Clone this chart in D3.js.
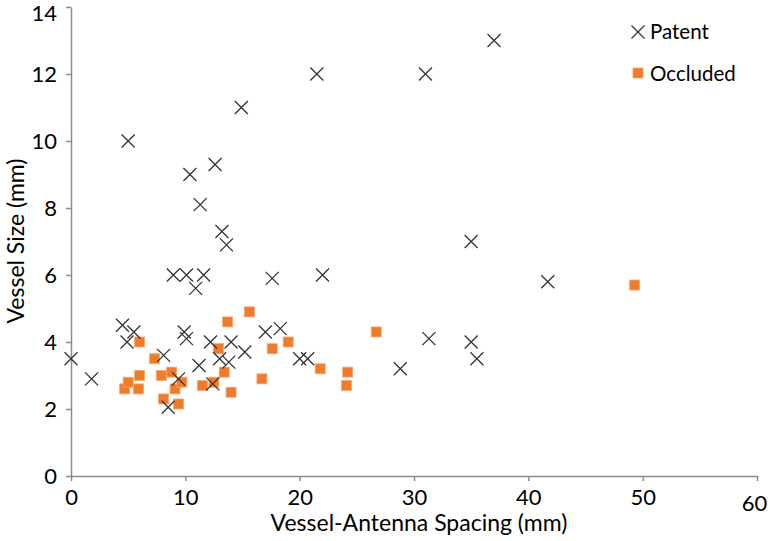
<!DOCTYPE html>
<html>
<head>
<meta charset="utf-8">
<script src="https://cdn.jsdelivr.net/npm/d3@7"></script>
<style>
  body { margin: 0; background: #fff; }
  text { font-family: Lato, "Open Sans", sans-serif; fill: #000; }
</style>
</head>
<body>
<svg id="chart" width="768" height="541"></svg>
<script>
// Data (Vessel-Antenna Spacing mm, Vessel Size mm)
const patentX = [0, 1.8, 5.0, 10.4, 12.6, 14.9, 21.5, 31.0, 37.0, 11.3, 13.2, 13.6, 8.95, 10.1, 11.6, 10.9,
  4.5, 5.5, 4.9, 8.1, 8.5, 9.9, 10.1, 9.4, 11.2, 12.2, 14.0, 13.0, 13.8, 15.2, 12.4,
  17.6, 22.0, 35.0, 17.0, 18.3, 20.0, 20.7, 28.8, 31.3, 35.0, 35.5, 41.7];
const patentY = [3.5, 2.9, 10.0, 9.0, 9.3, 11.0, 12.0, 12.0, 13.0, 8.1, 7.3, 6.9, 6.0, 6.0, 6.0, 5.6,
  4.5, 4.3, 4.0, 3.6, 2.05, 4.3, 4.1, 2.9, 3.3, 4.0, 4.0, 3.5, 3.4, 3.7, 2.75,
  5.9, 6.0, 7.0, 4.3, 4.4, 3.5, 3.5, 3.2, 4.1, 4.0, 3.5, 5.8];
const occludedX = [4.7, 5.0, 5.9, 6.0, 6.0, 7.3, 7.9, 8.8, 8.1, 9.1, 9.4, 9.7, 11.5, 12.5, 12.9, 13.4,
  13.7, 14.0, 15.6, 16.7, 17.6, 19.0, 21.8, 24.2, 24.1, 26.7, 49.3];
const occludedY = [2.6, 2.8, 2.6, 3.0, 4.0, 3.5, 3.0, 3.1, 2.3, 2.6, 2.15, 2.8, 2.7, 2.8, 3.8, 3.1,
  4.6, 2.5, 4.9, 2.9, 3.8, 4.0, 3.2, 3.1, 2.7, 4.3, 5.7];
const xTicks = [0, 10, 20, 30, 40, 50, 60];
const yTicks = [0, 2, 4, 6, 8, 10, 12, 14];
const seriesNames = ["Patent", "Occluded"];

const svg = d3.select("#chart");
const x = d3.scaleLinear().domain([0, 60]).range([71, 757]);
const y = d3.scaleLinear().domain([0, 14]).range([476, 7]);

const axisColor = "#8c8c8c";
const tickFont = 22;
const titleFont = 23;

// X axis
const gx = svg.append("g").attr("transform", `translate(0,${y(0)})`)
  .call(d3.axisBottom(x).tickValues(xTicks).tickSize(5).tickSizeOuter(0).tickPadding(6));
gx.select(".domain").attr("stroke", axisColor).attr("stroke-width", 1.5);
gx.selectAll(".tick line").attr("stroke", axisColor).attr("stroke-width", 1.5);
gx.selectAll(".tick text").attr("font-size", tickFont).attr("font-family", "Lato, sans-serif").attr("fill", "#000")
  .attr("dy", (d) => d === 60 ? "1.1em" : "0.82em")
  .attr("dx", (d) => d === 60 ? -3 : 0);

// Y axis
const gy = svg.append("g").attr("transform", `translate(${x(0)},0)`)
  .call(d3.axisLeft(y).tickValues(yTicks).tickSize(5).tickSizeOuter(0).tickPadding(9));
gy.select(".domain").attr("stroke", axisColor).attr("stroke-width", 1.5);
gy.selectAll(".tick line").attr("stroke", axisColor).attr("stroke-width", 1.5);
gy.selectAll(".tick text").attr("font-size", tickFont).attr("font-family", "Lato, sans-serif").attr("fill", "#000")
  .attr("dy", (d) => d === 14 ? "0.62em" : "0.34em");

// Axis titles
svg.append("text").attr("x", 419).attr("y", 531).attr("text-anchor", "middle")
  .attr("font-size", titleFont).text("Vessel-Antenna Spacing (mm)");
svg.append("text").attr("transform", "translate(24,241) rotate(-90)").attr("text-anchor", "middle")
  .attr("font-size", titleFont).text("Vessel Size (mm)");

const crossPath = (cx, cy, r) => `M${cx - r},${cy - r}L${cx + r},${cy + r}M${cx - r},${cy + r}L${cx + r},${cy - r}`;
const sq = 10;

// Occluded squares
const occ = d3.zip(occludedX, occludedY);
svg.append("g").selectAll("rect").data(occ).join("rect")
  .attr("x", d => x(d[0]) - sq / 2).attr("y", d => y(d[1]) - sq / 2)
  .attr("width", sq).attr("height", sq)
  .attr("fill", "#ef7b2c").attr("stroke", "#f6a66a").attr("stroke-width", 0.8);

// Patent crosses
const pat = d3.zip(patentX, patentY);
svg.append("g").selectAll("path").data(pat).join("path")
  .attr("d", d => crossPath(x(d[0]), y(d[1]), 6.5))
  .attr("stroke", "#333").attr("stroke-width", 1.3).attr("fill", "none");

// Legend
const lg = svg.append("g");
lg.append("path").attr("d", crossPath(638, 32, 6.5)).attr("stroke", "#333").attr("stroke-width", 1.3);
lg.append("text").attr("x", 650).attr("y", 32).attr("dy", "0.35em").attr("font-size", 20.5).text(seriesNames[0]);
lg.append("rect").attr("x", 633).attr("y", 68).attr("width", sq).attr("height", sq)
  .attr("fill", "#ef7b2c").attr("stroke", "#f6a66a").attr("stroke-width", 0.8);
lg.append("text").attr("x", 650).attr("y", 74).attr("dy", "0.35em").attr("font-size", 20.5).text(seriesNames[1]);
</script>
</body>
</html>
